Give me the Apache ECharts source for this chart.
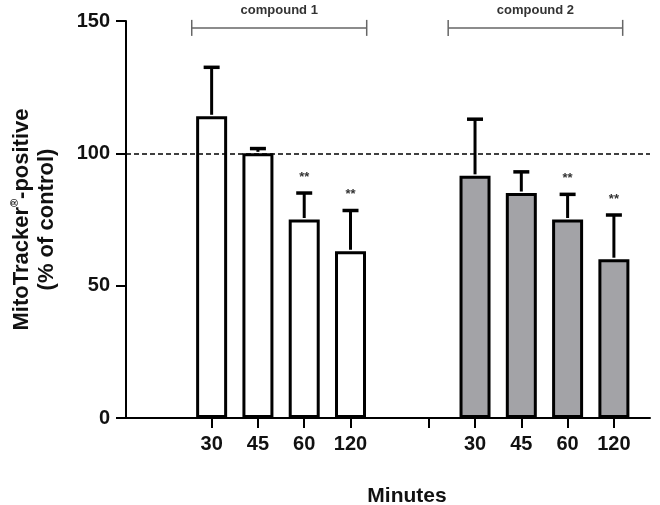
<!DOCTYPE html>
<html>
<head>
<meta charset="utf-8">
<script src="https://cdn.jsdelivr.net/npm/echarts@6/dist/echarts.min.js"></script>
<style>html,body{margin:0;padding:0;background:#fff}#c{width:660px;height:505px}</style>
</head>
<body>
<div id="c"></div>
<script>
// ---- data ----
var timeLabels = ['30', '45', '60', '120'];
var groupNames = ['compound 1', 'compound 2'];
var compound1Mean = [114, 100, 75, 63];
var compound1SD = [18.5, 1.8, 10, 15.4];
var compound1Sig = ['', '', '**', '**'];
var compound2Mean = [91.5, 85, 75, 60];
var compound2SD = [21.4, 8, 9.5, 16.7];
var compound2Sig = ['', '', '**', '**'];
var controlLevel = 100;

// ---- layout (slot positions on the x scale) ----
var groupStart = [0, 5.69];
var separatorPos = 4.68;
var bracketSpan = [[-0.43, 3.35], [-0.58, 3.19]];
var bracketLevel = 147.4;

var FONT = 'Liberation Sans';
var means = [compound1Mean, compound2Mean];
var sds = [compound1SD, compound2SD];
var sigs = [compound1Sig, compound2Sig];

var barData = [[], []];
var errData = [];
var errSig = [];
var tickPos = [];
var labelPos = [];
var labelMap = {};
for (var g = 0; g < 2; g++) {
  for (var i = 0; i < timeLabels.length; i++) {
    var x = +(groupStart[g] + i).toFixed(3);
    barData[g].push([x, means[g][i]]);
    errData.push([x, means[g][i], means[g][i] + sds[g][i]]);
    errSig.push(sigs[g][i]);
    tickPos.push(x);
    labelPos.push(x);
    labelMap[x.toFixed(3)] = timeLabels[i];
  }
  if (g === 0) tickPos.push(separatorPos);
}
var bracketData = bracketSpan.map(function (s, g) {
  return [groupStart[g] + s[0], bracketLevel, groupStart[g] + s[1]];
});

var chart = echarts.init(document.getElementById('c'), null, {renderer: 'canvas'});
chart.setOption({
  backgroundColor: '#fff',
  animation: false,
  grid: {left: 126, right: 10, top: 21, bottom: 87, containLabel: false, outerBoundsMode: 'none'},
  title: {
    text: 'Minutes', left: 402, top: 481, textAlign: 'center',
    textStyle: {fontFamily: FONT, fontSize: 21, fontWeight: 'bold', color: '#111'}
  },
  xAxis: {
    type: 'value', min: -1.85, max: 9.47,
    splitLine: {show: false},
    axisLine: {show: true, onZero: false, lineStyle: {color: '#000', width: 2}},
    axisTick: {show: true, customValues: tickPos, length: 10, lineStyle: {color: '#000', width: 2}},
    axisLabel: {
      customValues: labelPos, margin: 16,
      fontFamily: FONT, fontSize: 20, fontWeight: 'bold', color: '#111',
      formatter: function (v) { return labelMap[(+v).toFixed(3)] || ''; }
    }
  },
  yAxis: {
    type: 'value', min: 0, max: 150, interval: 50,
    splitLine: {show: false},
    axisLine: {show: true, onZero: false, lineStyle: {color: '#000', width: 2}},
    axisTick: {show: true, length: 10, lineStyle: {color: '#000', width: 2}},
    axisLabel: {margin: 16, fontFamily: FONT, fontSize: 20, fontWeight: 'bold', color: '#111'},
    name: 'MitoTracker{sup|®}-positive\n(% of control)',
    nameLocation: 'middle', nameRotate: 90, nameGap: 67,
    nameTextStyle: {
      fontFamily: FONT, fontSize: 22, fontWeight: 'bold', color: '#111', lineHeight: 25,
      rich: {sup: {fontFamily: FONT, fontSize: 11, verticalAlign: 'top', color: '#111', lineHeight: 25, padding: [0, 0, 10, 0]}}
    }
  },
  series: [
    {
      type: 'bar', data: barData[0], barWidth: 31, barGap: '-100%',
      itemStyle: {color: '#fff', borderColor: '#000', borderWidth: 3},
      markLine: {
        silent: true, symbol: 'none', label: {show: false},
        lineStyle: {color: '#000', type: [5, 3], width: 1.5},
        data: [{yAxis: controlLevel}]
      },
      z: 2
    },
    {
      type: 'bar', data: barData[1], barWidth: 31, barGap: '-100%',
      itemStyle: {color: '#a3a3a7', borderColor: '#000', borderWidth: 3},
      z: 2
    },
    {
      type: 'custom', data: errData, z: 3, clip: false,
      renderItem: function (params, api) {
        var x = api.value(0);
        var top = api.coord([x, api.value(1)]);
        var cap = api.coord([x, api.value(2)]);
        var children = [
          {type: 'line', shape: {x1: top[0], y1: top[1] - 1.5, x2: cap[0], y2: cap[1]}, style: {stroke: '#000', lineWidth: 3}},
          {type: 'line', shape: {x1: cap[0] - 8, y1: cap[1], x2: cap[0] + 8, y2: cap[1]}, style: {stroke: '#000', lineWidth: 3.5}}
        ];
        var s = errSig[params.dataIndex];
        if (s) {
          children.push({type: 'text', style: {text: s, x: cap[0], y: cap[1] - 16, align: 'center', verticalAlign: 'middle',
            font: 'bold 13px ' + FONT, fill: '#333'}});
        }
        return {type: 'group', children: children};
      }
    },
    {
      type: 'custom', data: bracketData, z: 3, clip: false,
      renderItem: function (params, api) {
        var a = api.coord([api.value(0), api.value(1)]);
        var b = api.coord([api.value(2), api.value(1)]);
        return {type: 'group', children: [
          {type: 'line', shape: {x1: a[0], y1: a[1], x2: b[0], y2: b[1]}, style: {stroke: '#666', lineWidth: 1.5}},
          {type: 'line', shape: {x1: a[0], y1: a[1] - 8, x2: a[0], y2: a[1] + 8}, style: {stroke: '#666', lineWidth: 1.5}},
          {type: 'line', shape: {x1: b[0], y1: b[1] - 8, x2: b[0], y2: b[1] + 8}, style: {stroke: '#666', lineWidth: 1.5}},
          {type: 'text', style: {text: groupNames[params.dataIndex], x: (a[0] + b[0]) / 2, y: a[1] - 17,
            align: 'center', verticalAlign: 'middle', font: 'bold 13px ' + FONT, fill: '#333'}}
        ]};
      }
    }
  ]
});
</script>
</body>
</html>
